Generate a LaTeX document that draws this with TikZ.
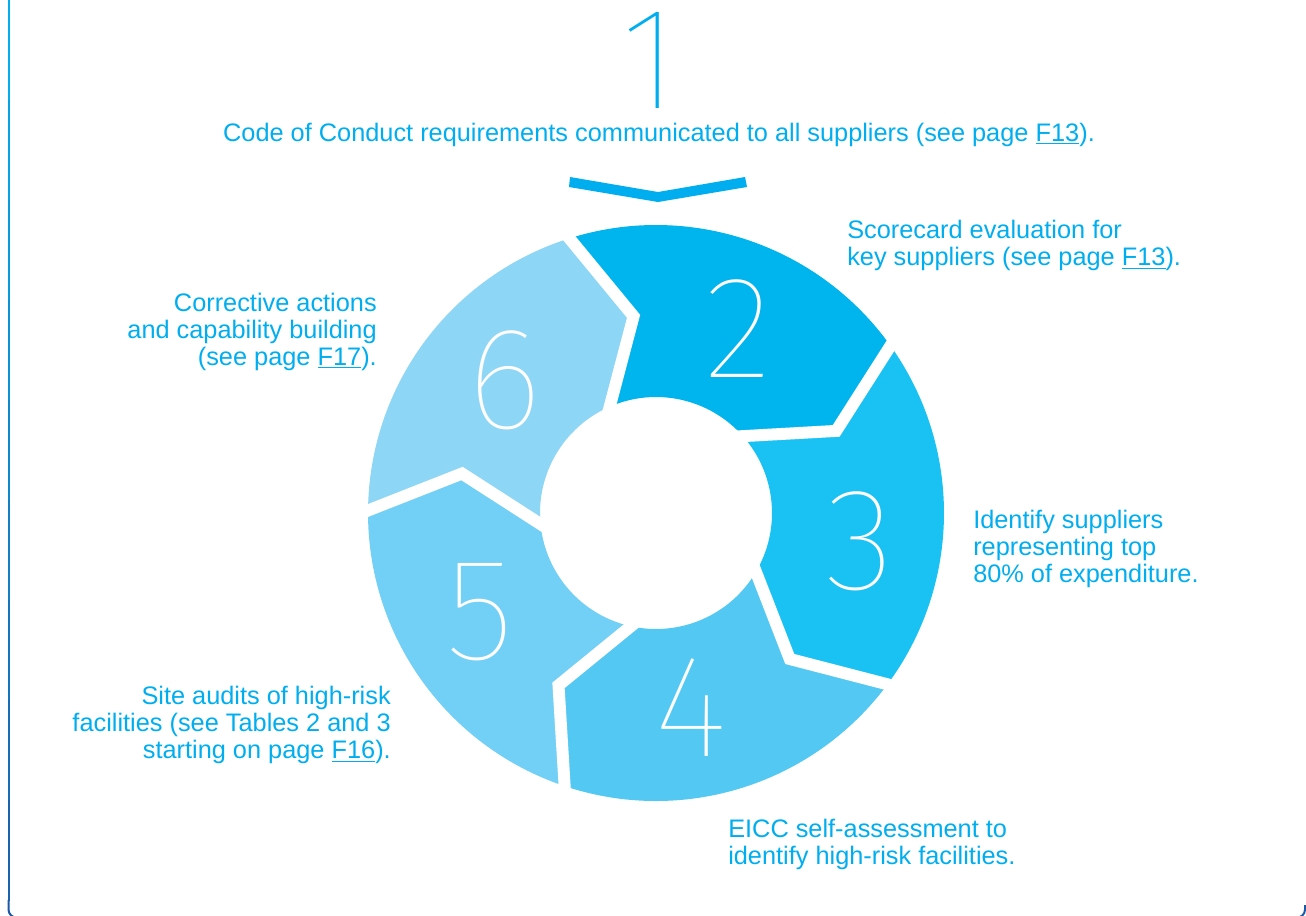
\documentclass[tikz,border=0pt]{standalone}
\usepackage{fontspec}
\setmainfont{Liberation Sans}
\newfontfamily\digitfont{Fira Sans Thin}
\usetikzlibrary{positioning}
\usepackage{xcolor}

\definecolor{ciscoblue}{HTML}{00AEEF}
\definecolor{framenavy}{HTML}{1B58A8}
\definecolor{segtwo}{HTML}{00B4EE}
\definecolor{segthree}{HTML}{19C2F3}
\definecolor{segfour}{HTML}{52C8F2}
\definecolor{segfive}{HTML}{72CFF5}
\definecolor{segsix}{HTML}{8DD6F6}

\newcommand{\pg}[1]{\underline{#1}}

\tikzset{
  caption/.style={text=ciscoblue, inner sep=0pt, font=\fontsize{19}{20.3}\selectfont},
  bignum/.style={text=white, inner sep=0pt, anchor=base, text depth=0pt, font=\digitfont\fontsize{109}{109}\selectfont},
  gap/.style={draw=white, line width=9pt, line join=miter, shorten <=-6pt, shorten >=-6pt},
}

\begin{document}
\begin{tikzpicture}[x=0.75pt,y=-0.75pt]
\useasboundingbox (0,0) rectangle (1306,915);

% frame, cyan at the top to navy at the bottom
\foreach \i [evaluate=\i as \mix using 100-11*\i] in {0,...,8}
  \draw[line width=1.5pt, ciscoblue!\mix!framenavy] (8.5,{\i*100}) -- (8.5,{\i*100+101});
\draw[line width=1.5pt, framenavy, rounded corners=6] (8.5,900) -- (8.5,917.5) -- (1305,917.5) -- (1305,905);

% step 1 on top
\node[bignum, text=ciscoblue] (num1) at (650,108) {1};
\node[caption, anchor=north] (step1) at (659,123) {Code of Conduct requirements communicated to all suppliers (see page \pg{F13}).};
\fill[ciscoblue] (570,177) -- (658,192) -- (745,177) -- (747,187) -- (658,202) -- (569,187) -- cycle;

% the ring
\begin{scope}[shift={(656,513)}]
\foreach \k/\col in {0/segtwo,1/segthree,2/segfour,3/segfive,4/segsix} {
  \pgfmathsetmacro\a{72*\k-96.5}
  \pgfmathsetmacro\b{\a+72}
  \pgfmathsetmacro\ao{\a-11}
  \pgfmathsetmacro\bo{\b-11}
  \pgfmathsetmacro\ai{\a-17}
  \pgfmathsetmacro\bi{\b-17}
  \fill[\col] (\ao:288) arc[start angle=\ao, end angle=\bo, radius=288]
    -- (\b:198) -- (\bi:116) arc[start angle=\bi, end angle=\ai, radius=116]
    -- (\a:198) -- cycle;
}
\foreach \k in {0,...,4} {
  \pgfmathsetmacro\a{72*\k-96.5}
  \pgfmathsetmacro\ao{\a-11}
  \pgfmathsetmacro\ai{\a-17}
  \draw[gap] (\ao:288) -- (\a:198) -- (\ai:116);
}
\end{scope}

\node[bignum] (num2) at (738,377) {2};
\node[bignum] (num3) at (860,589) {3};
\node[bignum] (num4) at (691,756) {4};
\node[bignum] (num5) at (480,659) {5};
\node[bignum] (num6) at (505,428) {6};

% captions
\node[caption, anchor=north west, align=left] (step2) at (847,220) {Scorecard evaluation for\\key suppliers (see page \pg{F13}).};
\node[caption, anchor=north west, align=left] (step3) at (973,510) {Identify suppliers\\representing top\\80\% of expenditure.};
\node[caption, anchor=north west, align=left] (step4) at (728,819) {EICC self-assessment to\\identify high-risk facilities.};
\node[caption, anchor=north east, align=right] (step5) at (391,686) {Site audits of high-risk\\facilities (see Tables 2 and 3\\starting on page \pg{F16}).};
\node[caption, anchor=north east, align=right] (step6) at (377,293) {Corrective actions\\and capability building\\(see page \pg{F17}).};
\end{tikzpicture}
\end{document}
